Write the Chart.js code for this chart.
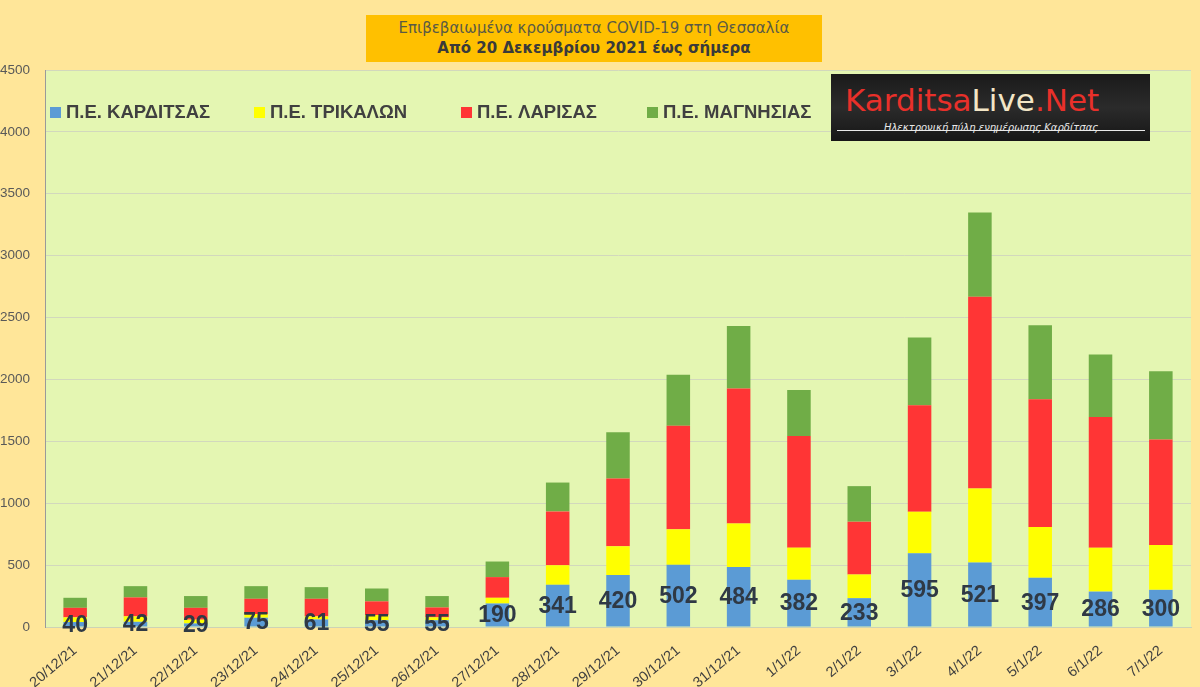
<!DOCTYPE html>
<html>
<head>
<meta charset="utf-8">
<script src="https://cdn.jsdelivr.net/npm/chart.js@4.4.1/dist/chart.umd.min.js"></script>
<style>
  html, body { margin:0; padding:0; background:#FFE699; }
  #wrap { position:relative; width:1200px; height:687px; overflow:hidden; background:#FFE699; }
  canvas { position:absolute; left:0; top:0; }
  #title { position:absolute; left:366px; top:15px; width:456px; height:47px; background:#FFC000;
    font-family:"DejaVu Sans", Verdana, sans-serif; text-align:center; line-height:20px; padding-top:3px; box-sizing:border-box; }
  #title .l1 { font-size:15px; color:#5a5a45; }
  #title .l2 { font-size:15px; font-weight:bold; color:#3a3a3a; }
  #logo { position:absolute; left:831px; top:74px; width:319px; height:67px;
    background:linear-gradient(180deg,#1a1a1a,#2b2b2b 50%,#161616); overflow:hidden; }
  #logo .big { position:absolute; left:14px; top:8px; font-family:"DejaVu Sans", sans-serif; font-size:31px; letter-spacing:0px; white-space:nowrap; }
  #logo .red { color:#e8302a; }
  #logo .lt { color:#f3e6c6; }
  #logo .sub { position:absolute; left:10px; top:48px; width:300px; text-align:center; font-family:"DejaVu Sans", sans-serif; font-size:10px; font-style:italic; color:#e8e8e8; white-space:nowrap; }
  #logo .line { position:absolute; left:6px; top:56px; width:308px; height:1px; background:#e8e8e8; }
</style>
</head>
<body>
<div id="wrap">
  <canvas id="c" width="1200" height="687"></canvas>
  <div id="title"><div class="l1">Επιβεβαιωμένα κρούσματα COVID-19 στη Θεσσαλία</div><div class="l2">Από 20 Δεκεμβρίου 2021 έως σήμερα</div></div>
  <div id="logo"><div class="big"><span class="red">Karditsa</span><span class="lt">Live</span><span class="red">.Net</span></div><div class="line"></div><div class="sub">Ηλεκτρονική πύλη ενημέρωσης Καρδίτσας</div></div>
</div>
<script>
const categories = ["20/12/21","21/12/21","22/12/21","23/12/21","24/12/21","25/12/21","26/12/21","27/12/21","28/12/21","29/12/21","30/12/21","31/12/21","1/1/22","2/1/22","3/1/22","4/1/22","5/1/22","6/1/22","7/1/22"];
const seriesNames = ["Π.Ε. ΚΑΡΔΙΤΣΑΣ","Π.Ε. ΤΡΙΚΑΛΩΝ","Π.Ε. ΛΑΡΙΣΑΣ","Π.Ε. ΜΑΓΝΗΣΙΑΣ"];
const karditsa = [40,42,29,75,61,55,55,190,341,420,502,484,382,233,595,521,397,286,300];
const trikala  = [38,44,30,30,25,42,23,46,158,232,287,353,259,191,336,598,411,355,363];
const larisa   = [77,153,96,123,142,110,80,167,435,548,837,1090,902,427,860,1549,1033,1055,851];
const magnisia = [81,91,95,102,94,104,92,126,233,373,411,505,371,287,547,681,596,505,553];
const yTicks = [0,500,1000,1500,2000,2500,3000,3500,4000,4500];

const colors = ["#5B9BD5","#FFFF00","#FF3535","#70AD47"];
const seriesData = [karditsa, trikala, larisa, magnisia];

const bgPlugin = {
  id:'plotBg',
  beforeDraw(chart){
    const {ctx, chartArea:a} = chart;
    ctx.save();
    ctx.fillStyle = '#E4F6B2';
    ctx.fillRect(a.left, a.top, a.right-a.left, a.bottom-a.top);
    ctx.restore();
  }
};

const labelPlugin = {
  id:'kLabels',
  afterDatasetsDraw(chart){
    const ctx = chart.ctx;
    const meta = chart.getDatasetMeta(0);
    const ds = chart.data.datasets[0];
    ctx.save();
    ctx.font = 'bold 23px "Liberation Sans", Arial, sans-serif';
    ctx.fillStyle = '#2f3945';
    ctx.textAlign = 'center';
    ctx.textBaseline = 'middle';
    meta.data.forEach((bar, i) => {
      const p = bar.getProps(['x','y','base'], true);
      ctx.fillText(String(ds.data[i]), p.x, (p.y + p.base)/2 + 1);
    });
    ctx.restore();
  }
};

const legendPlugin = {
  id:'customLegend',
  afterDraw(chart){
    const ctx = chart.ctx;
    const xs = [50, 254, 461, 647];
    const y = 113;
    ctx.save();
    ctx.font = 'bold 18.5px "Liberation Sans", Arial, sans-serif';
    ctx.textBaseline = 'middle';
    ctx.textAlign = 'left';
    chart.data.datasets.forEach((ds, i) => {
      ctx.fillStyle = ds.backgroundColor;
      ctx.fillRect(xs[i], y-6, 11, 11);
      ctx.fillStyle = '#404040';
      ctx.fillText(ds.label, xs[i] + 16, y);
    });
    ctx.restore();
  }
};

new Chart(document.getElementById('c'), {
  type:'bar',
  data:{
    labels: categories,
    datasets: seriesNames.map((n,i)=>({
      label:n, data: seriesData[i], backgroundColor: colors[i], borderWidth:0,
      barPercentage:0.39, categoryPercentage:1.0
    }))
  },
  options:{
    responsive:false,
    devicePixelRatio:1,
    animation:false,
    layout:{ padding:{ top:70, right:9, left:0, bottom:0 } },
    plugins:{ legend:{display:false}, title:{display:false}, tooltip:{enabled:false} },
    scales:{
      x:{
        stacked:true,
        grid:{ display:false, drawTicks:false },
        border:{ display:true, color:'#cdd3b5' },
        ticks:{ color:'#404040', font:{ size:14.5, family:'"Liberation Sans", Arial, sans-serif' },
                minRotation:40, maxRotation:40, padding:15, autoSkip:false },
        afterFit(s){ s.height = 60; }
      },
      y:{
        stacked:true, min:0, max:4500,
        afterBuildTicks(s){ s.ticks = yTicks.map(v=>({value:v})); },
        grid:{ color:'#d2d8bd', drawTicks:false },
        border:{ display:true, color:'#9a9a9a' },
        ticks:{ color:'#595959', font:{ size:13.5, family:'"Liberation Sans", Arial, sans-serif' }, padding:15,
                callback:(v)=>String(v) },
        afterFit(s){ s.width = 45; }
      }
    }
  },
  plugins:[bgPlugin, labelPlugin, legendPlugin]
});
</script>
</body>
</html>
